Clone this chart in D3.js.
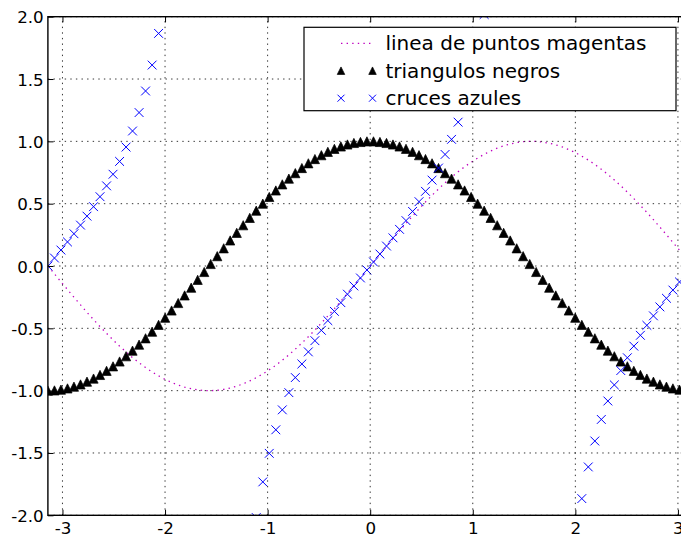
<!DOCTYPE html>
<html>
<head>
<meta charset="utf-8">
<script src="https://cdn.jsdelivr.net/npm/d3@7"></script>
<style>
  body { margin: 0; background: #fff; overflow: hidden; }
  svg { display: block; font-family: "DejaVu Sans", sans-serif; }
</style>
</head>
<body>
<div id="chart"></div>
<script>
//DATA GOES HERE (100 samples, x from -pi to pi)
var xs = [
  -3.142, -3.078, -3.015, -2.951, -2.888, -2.824, -2.761, -2.697, -2.634, -2.570,
  -2.507, -2.443, -2.380, -2.317, -2.253, -2.190, -2.126, -2.063, -1.999, -1.936,
  -1.872, -1.809, -1.745, -1.682, -1.618, -1.555, -1.491, -1.428, -1.365, -1.301,
  -1.238, -1.174, -1.111, -1.047, -0.984, -0.920, -0.857, -0.793, -0.730, -0.666,
  -0.603, -0.539, -0.476, -0.413, -0.349, -0.286, -0.222, -0.159, -0.095, -0.032,
  0.032, 0.095, 0.159, 0.222, 0.286, 0.349, 0.413, 0.476, 0.539, 0.603,
  0.666, 0.730, 0.793, 0.857, 0.920, 0.984, 1.047, 1.111, 1.174, 1.238,
  1.301, 1.365, 1.428, 1.491, 1.555, 1.618, 1.682, 1.745, 1.809, 1.872,
  1.936, 1.999, 2.063, 2.126, 2.190, 2.253, 2.317, 2.380, 2.443, 2.507,
  2.570, 2.634, 2.697, 2.761, 2.824, 2.888, 2.951, 3.015, 3.078, 3.142
];

// magenta dotted line
var magenta = [
  0.000, -0.063, -0.127, -0.189, -0.251, -0.312, -0.372, -0.430, -0.486, -0.541,
  -0.593, -0.643, -0.690, -0.735, -0.776, -0.815, -0.850, -0.881, -0.910, -0.934,
  -0.955, -0.972, -0.985, -0.994, -0.999, -1.000, -0.997, -0.990, -0.979, -0.964,
  -0.945, -0.922, -0.896, -0.866, -0.833, -0.796, -0.756, -0.713, -0.667, -0.618,
  -0.567, -0.514, -0.458, -0.401, -0.342, -0.282, -0.220, -0.158, -0.095, -0.032,
  0.032, 0.095, 0.158, 0.220, 0.282, 0.342, 0.401, 0.458, 0.514, 0.567,
  0.618, 0.667, 0.713, 0.756, 0.796, 0.833, 0.866, 0.896, 0.922, 0.945,
  0.964, 0.979, 0.990, 0.997, 1.000, 0.999, 0.994, 0.985, 0.972, 0.955,
  0.934, 0.910, 0.881, 0.850, 0.815, 0.776, 0.735, 0.690, 0.643, 0.593,
  0.541, 0.486, 0.430, 0.372, 0.312, 0.251, 0.189, 0.127, 0.063, 0.000
];

// black triangles
var black = [
  -1.000, -0.998, -0.992, -0.982, -0.968, -0.950, -0.928, -0.903, -0.874, -0.841,
  -0.805, -0.766, -0.724, -0.679, -0.631, -0.580, -0.527, -0.472, -0.415, -0.357,
  -0.297, -0.236, -0.174, -0.111, -0.048, 0.016, 0.079, 0.142, 0.205, 0.266,
  0.327, 0.386, 0.444, 0.500, 0.554, 0.606, 0.655, 0.701, 0.745, 0.786,
  0.824, 0.858, 0.889, 0.916, 0.940, 0.959, 0.975, 0.987, 0.995, 1.000,
  1.000, 0.995, 0.987, 0.975, 0.959, 0.940, 0.916, 0.889, 0.858, 0.824,
  0.786, 0.745, 0.701, 0.655, 0.606, 0.554, 0.500, 0.444, 0.386, 0.327,
  0.266, 0.205, 0.142, 0.079, 0.016, -0.048, -0.111, -0.174, -0.236, -0.297,
  -0.357, -0.415, -0.472, -0.527, -0.580, -0.631, -0.679, -0.724, -0.766, -0.805,
  -0.841, -0.874, -0.903, -0.928, -0.950, -0.968, -0.982, -0.992, -0.998, -1.000
];

// blue crosses
var blue = [
  0.000, 0.064, 0.128, 0.193, 0.259, 0.328, 0.400, 0.476, 0.556, 0.643,
  0.736, 0.839, 0.954, 1.083, 1.231, 1.404, 1.612, 1.866, 2.190, 2.618,
  3.216, 4.122, 5.671, 8.967, 20.99, -63.0, -12.58, -6.955, -4.779, -3.617,
  -2.889, -2.387, -2.018, -1.732, -1.503, -1.314, -1.154, -1.016, -0.895, -0.786,
  -0.689, -0.599, -0.516, -0.438, -0.364, -0.294, -0.226, -0.160, -0.096, -0.032,
  0.032, 0.096, 0.160, 0.226, 0.294, 0.364, 0.438, 0.516, 0.599, 0.689,
  0.786, 0.895, 1.016, 1.154, 1.314, 1.503, 1.732, 2.018, 2.387, 2.889,
  3.617, 4.779, 6.955, 12.58, 63.0, -20.99, -8.967, -5.671, -4.122, -3.216,
  -2.618, -2.190, -1.866, -1.612, -1.404, -1.231, -1.083, -0.954, -0.839, -0.736,
  -0.643, -0.556, -0.476, -0.400, -0.328, -0.259, -0.193, -0.128, -0.064, 0.000
];

var xTicks = [-3, -2, -1, 0, 1, 2, 3];
var xTickLabels = ["-3", "-2", "-1", "0", "1", "2", "3"];
var yTicks = [-2, -1.5, -1, -0.5, 0, 0.5, 1, 1.5, 2];
var yTickLabels = ["-2.0", "-1.5", "-1.0", "-0.5", "0.0", "0.5", "1.0", "1.5", "2.0"];
var legendLabels = ["linea de puntos magentas", "triangulos negros", "cruces azules"];

var width = 681, height = 536;
var pLeft = 47.9, pRight = 692.5, pTop = 16.7, pBottom = 515.3;
var fontSize = 16.7;
var legendFontSize = 20;
var triSize = 9.2;
var crossSize = 8.8;

document.addEventListener('DOMContentLoaded', function () {
    draw();
}, false);

////////////////////////////////////////////////////////////////////////////////

// matplotlib style '^' marker (width == height == size)
var triangleUp = {
  draw: function(context, size) {
    var r = Math.sqrt(size) / 2;
    context.moveTo(0, -r);
    context.lineTo(r, r);
    context.lineTo(-r, r);
    context.closePath();
  }
};

// matplotlib style 'x' marker
var crossX = {
  draw: function(context, size) {
    var r = Math.sqrt(size) / 2;
    context.moveTo(-r, -r);
    context.lineTo(r, r);
    context.moveTo(r, -r);
    context.lineTo(-r, r);
  }
};

function draw() {
  var data = xs.map(function(x, i) {
    return {x: x, m: magenta[i], k: black[i], b: blue[i]};
  });

  var svg = d3.select("#chart")
              .append("svg")
              .attr("width", width)
              .attr("height", height);

  svg.append("rect")
     .attr("width", width)
     .attr("height", height)
     .attr("fill", "#fff");

  var x = d3.scaleLinear().domain([xs[0], xs[xs.length - 1]]).range([pLeft, pRight]);
  var y = d3.scaleLinear().domain([-2, 2]).range([pBottom, pTop]);

  svg.append("clipPath")
     .attr("id", "plotclip")
     .append("rect")
     .attr("x", pLeft)
     .attr("y", pTop)
     .attr("width", pRight - pLeft)
     .attr("height", pBottom - pTop);

  var plot = svg.append("g").attr("clip-path", "url(#plotclip)");

  // magenta dotted line
  var line = d3.line()
               .x(function(d){ return x(d.x); })
               .y(function(d){ return y(d.m); });

  plot.append("path")
      .datum(data)
      .attr("d", line)
      .attr("fill", "none")
      .attr("stroke", "#bf00bf")
      .attr("stroke-width", 1.3)
      .attr("stroke-dasharray", "1.4,4.2");

  // black triangles
  var tri = d3.symbol().type(triangleUp).size(triSize * triSize);
  plot.selectAll("path.tri")
      .data(data)
      .enter()
      .append("path")
      .attr("class", "tri")
      .attr("d", tri)
      .attr("transform", function(d){ return "translate(" + x(d.x) + "," + y(d.k) + ")"; })
      .attr("fill", "#000")
      .attr("stroke", "#000")
      .attr("stroke-width", 0.7);

  // blue crosses
  var cross = d3.symbol().type(crossX).size(crossSize * crossSize);
  plot.selectAll("path.cross")
      .data(data)
      .enter()
      .append("path")
      .attr("class", "cross")
      .attr("d", cross)
      .attr("transform", function(d){ return "translate(" + x(d.x) + "," + y(d.b) + ")"; })
      .attr("fill", "none")
      .attr("stroke", "#0000ff")
      .attr("stroke-width", 1);

  // grid (drawn above the data, classic style)
  var grid = svg.append("g")
                .attr("stroke", "#000")
                .attr("stroke-width", 0.8)
                .attr("stroke-dasharray", "1.4,4.2");

  grid.selectAll("line.vx")
      .data(xTicks)
      .enter()
      .append("line")
      .attr("x1", function(d){ return x(d); })
      .attr("x2", function(d){ return x(d); })
      .attr("y1", pBottom)
      .attr("y2", pTop);

  grid.selectAll("line.hy")
      .data(yTicks)
      .enter()
      .append("line")
      .attr("x1", pLeft)
      .attr("x2", pRight)
      .attr("y1", function(d){ return y(d); })
      .attr("y2", function(d){ return y(d); });

  // axes with inward ticks
  var tickLen = 5.6;

  svg.append("g")
     .attr("transform", "translate(0," + pBottom + ")")
     .call(d3.axisBottom(x)
             .tickValues(xTicks)
             .tickSizeInner(-tickLen)
             .tickSizeOuter(0)
             .tickPadding(6.6)
             .tickFormat(function(d, i){ return xTickLabels[i]; }));

  svg.append("g")
     .attr("transform", "translate(0," + pTop + ")")
     .call(d3.axisTop(x)
             .tickValues(xTicks)
             .tickSizeInner(-tickLen)
             .tickSizeOuter(0)
             .tickFormat(""));

  var yAxis = svg.append("g")
     .attr("transform", "translate(" + pLeft + ",0)")
     .call(d3.axisLeft(y)
             .tickValues(yTicks)
             .tickSizeInner(-tickLen)
             .tickSizeOuter(0)
             .tickPadding(4.2)
             .tickFormat(function(d, i){ return yTickLabels[i]; }));

  svg.append("g")
     .attr("transform", "translate(" + pRight + ",0)")
     .call(d3.axisRight(y)
             .tickValues(yTicks)
             .tickSizeInner(-tickLen)
             .tickSizeOuter(0)
             .tickFormat(""));

  svg.selectAll(".domain").remove();
  svg.selectAll(".tick line").attr("stroke", "#000").attr("stroke-width", 1);
  svg.selectAll(".tick text")
     .attr("fill", "#000")
     .style("font-family", "'DejaVu Sans', sans-serif")
     .style("font-size", fontSize + "px");
  yAxis.selectAll(".tick text").attr("dy", "0.36em");

  // frame (spines)
  svg.append("rect")
     .attr("x", pLeft)
     .attr("y", pTop)
     .attr("width", pRight - pLeft)
     .attr("height", pBottom - pTop)
     .attr("fill", "none")
     .attr("stroke", "#000")
     .attr("stroke-width", 1.4);

  // legend
  var lg = svg.append("g");
  lg.append("rect")
    .attr("x", 304)
    .attr("y", 27.3)
    .attr("width", 372)
    .attr("height", 83.4)
    .attr("fill", "#fff")
    .attr("stroke", "#000")
    .attr("stroke-width", 1.2);

  var rowY = [43.3, 70.7, 98.2];
  var m1 = 341, m2 = 372.5;

  lg.append("line")
    .attr("x1", m1)
    .attr("x2", m2 + 1)
    .attr("y1", rowY[0])
    .attr("y2", rowY[0])
    .attr("stroke", "#bf00bf")
    .attr("stroke-width", 1.3)
    .attr("stroke-dasharray", "1.4,4.2");

  var legTri = d3.symbol().type(triangleUp).size(7.5 * 7.5);
  var legCross = d3.symbol().type(crossX).size(7 * 7);

  [m1, m2].forEach(function(mx){
    lg.append("path")
      .attr("d", legTri)
      .attr("transform", "translate(" + mx + "," + rowY[1] + ")")
      .attr("fill", "#000")
      .attr("stroke", "#000")
      .attr("stroke-width", 0.7);
    lg.append("path")
      .attr("d", legCross)
      .attr("transform", "translate(" + mx + "," + rowY[2] + ")")
      .attr("fill", "none")
      .attr("stroke", "#0000ff")
      .attr("stroke-width", 1);
  });

  lg.selectAll("text")
    .data(legendLabels)
    .enter()
    .append("text")
    .attr("x", 385.5)
    .attr("y", function(d, i){ return rowY[i] + 6.8; })
    .style("font-size", legendFontSize + "px")
    .attr("fill", "#000")
    .text(function(d){ return d; });
}
</script>
</body>
</html>
